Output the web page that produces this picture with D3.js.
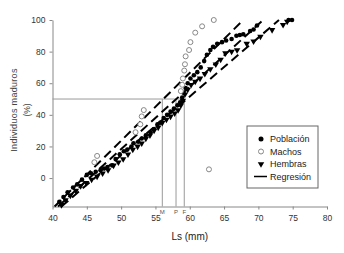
<!DOCTYPE html>
<html lang="en">
<head>
<meta charset="utf-8">
<script src="https://d3js.org/d3.v7.min.js"></script>
<style>
  body { margin: 0; background: #fff; }
  svg { display: block; font-family: Arial, "Liberation Sans", sans-serif; }
</style>
</head>
<body>
<script>
// tick values
var xTicks = [40, 45, 50, 55, 60, 65, 70, 75, 80];
var yTicks = [0, 20, 40, 60, 80, 100];

// Poblacion (filled circles): [Ls, %]
var poblacion = [[41.0,-15],[41.6,-12],[42.2,-9],[43.0,-6],[43.6,-4],[44.3,-1],[45.0,2],[45.6,3],[46.3,4],
  [47.0,5],[47.5,6],[48.0,7],[48.7,8],[49.2,12],[49.8,15],[50.4,17],[50.9,18],[51.5,20],[51.8,22],
  [52.5,23],[53.0,25],[53.6,27],[54.3,29],[54.8,31],[55.3,34],[55.7,35],[56.2,38],[56.7,40],[57.2,42],
  [57.7,44],[58.2,46],[58.6,48],[58.9,51],[59.1,54],[59.4,57],[59.7,60],[60.1,63],[60.6,65],[61.1,67],
  [61.6,70],[62.1,74],[62.5,78],[63.0,81],[63.4,83],[64.0,85],[64.7,86],[65.3,87],[66.1,88],[66.8,90],
  [67.3,90.5],[67.8,91],[68.8,93],[69.3,94],[69.8,96.5],[74.4,100],[74.9,100]];

// Machos (open circles)
var machos = [[46.1,10],[46.5,14],[52.1,29],[52.8,34],[53.0,39],[53.3,43],[58.7,55],[58.9,59],[59.0,63],
  [59.2,68],[59.3,72],[59.4,77],[59.9,81],[60.1,86],[60.8,92],[61.8,96],[63.5,100],[62.8,5.5]];

// Hembras (filled triangles)
var hembras = [[41.3,-17],[41.9,-14],[42.6,-11],[43.4,-8],[44.1,-5],[44.9,-3],[45.7,-1],[46.5,1],[47.3,3],
  [48.1,5],[48.9,8],[49.6,10],[50.3,12],[51.0,15],[51.7,18],[52.4,20],[53.0,22],[53.6,25],[54.2,27],
  [54.8,30],[55.4,32],[56.0,35],[56.6,37],[57.2,39],[57.8,41],[58.3,43],[58.7,46],[59.0,49],[59.3,53],
  [59.7,56],[60.2,59],[60.8,61],[61.5,63],[62.2,66],[63.0,69],[63.8,72],[64.5,75],[65.2,79],[66.1,80],
  [66.9,81],[68.3,85],[69.3,86.5],[70.3,89.5],[72.0,93.7],[73.6,97],[74.2,99]];

// regression lines: [[x1,y1],[x2,y2]] for machos, poblacion, hembras
var regresion = [
  [[40.3,-18],[67.8,100]],
  [[40.8,-18],[70.7,100]],
  [[41.3,-18],[73.0,100]]
];

// 50% maturity sizes
var madurez = [["M", 56.0], ["P", 58.0], ["F", 59.2]];

var W = 344, H = 253;
var svg = d3.select("body").append("svg").attr("width", W).attr("height", H);

var x = d3.scaleLinear().domain([40, 80]).range([52.5, 327]);
var y = d3.scaleLinear().domain([-18, 100]).range([206.5, 20]);

// axes
var xAxis = svg.append("g")
  .attr("transform", "translate(0," + y(-18) + ")")
  .call(d3.axisBottom(x).tickValues(xTicks).tickSize(3).tickSizeOuter(0).tickPadding(5));
var yAxis = svg.append("g")
  .attr("transform", "translate(" + x(40) + ",0)")
  .call(d3.axisLeft(y).tickValues(yTicks).tickSize(3).tickSizeOuter(0).tickPadding(4));

[xAxis, yAxis].forEach(function(g) {
  g.select(".domain").attr("stroke", "#888");
  g.selectAll(".tick line").attr("stroke", "#888");
  g.selectAll(".tick text").attr("fill", "#333").style("font-size", "8.5px")
    .style("font-family", "Arial, 'Liberation Sans', sans-serif");
});

// reference lines at 50%
var xMax = d3.max(madurez, function(d) { return d[1]; });
svg.append("line")
  .attr("x1", x(40)).attr("x2", x(xMax))
  .attr("y1", y(50)).attr("y2", y(50))
  .attr("stroke", "#999").attr("stroke-width", 1);

svg.selectAll(".vline").data(madurez).enter().append("line")
  .attr("class", "vline")
  .attr("x1", function(d) { return x(d[1]); })
  .attr("x2", function(d) { return x(d[1]); })
  .attr("y1", y(-18)).attr("y2", y(50))
  .attr("stroke", "#999").attr("stroke-width", 1);

svg.selectAll(".vlab").data(madurez).enter().append("text")
  .attr("x", function(d) { return x(d[1]); })
  .attr("y", y(-18) + 7)
  .attr("text-anchor", "middle")
  .style("font-size", "6px").attr("fill", "#555")
  .text(function(d) { return d[0]; });

// regression lines
var line = d3.line().x(function(d) { return x(d[0]); }).y(function(d) { return y(d[1]); });
svg.selectAll(".reg").data(regresion).enter().append("path")
  .attr("class", "reg")
  .attr("d", line)
  .attr("fill", "none")
  .attr("stroke", "#000")
  .attr("stroke-width", 2)
  .attr("stroke-dasharray", "9,5");

// points
svg.selectAll(".hem").data(hembras).enter().append("path")
  .attr("class", "hem")
  .attr("transform", function(d) { return "translate(" + x(d[0]) + "," + y(d[1]) + ") rotate(180)"; })
  .attr("d", d3.symbol().type(d3.symbolTriangle).size(18))
  .attr("fill", "#000");

svg.selectAll(".pob").data(poblacion).enter().append("circle")
  .attr("class", "pob")
  .attr("cx", function(d) { return x(d[0]); })
  .attr("cy", function(d) { return y(d[1]); })
  .attr("r", 2.3)
  .attr("fill", "#000");

svg.selectAll(".mac").data(machos).enter().append("circle")
  .attr("class", "mac")
  .attr("cx", function(d) { return x(d[0]); })
  .attr("cy", function(d) { return y(d[1]); })
  .attr("r", 2.5)
  .attr("fill", "#fff")
  .attr("stroke", "#888")
  .attr("stroke-width", 1);

// axis titles
svg.append("text")
  .attr("x", x(60)).attr("y", 240)
  .attr("text-anchor", "middle")
  .style("font-size", "10px").attr("fill", "#222")
  .text("Ls (mm)");

svg.append("text")
  .attr("transform", "translate(17,110) rotate(-90)")
  .attr("text-anchor", "middle")
  .style("font-size", "9px").style("letter-spacing", "0.3px").attr("fill", "#444")
  .text("Individuos maduros");
svg.append("text")
  .attr("transform", "translate(30,110) rotate(-90)")
  .attr("text-anchor", "middle")
  .style("font-size", "8.5px").attr("fill", "#444")
  .text("(%)");

// legend
var legend = svg.append("g").attr("transform", "translate(247,126)");
legend.append("rect")
  .attr("width", 71).attr("height", 62)
  .attr("fill", "#fff").attr("stroke", "#666").attr("stroke-width", 1);

var items = ["Población", "Machos", "Hembras", "Regresión"];
items.forEach(function(t, i) {
  var cy = 13 + i * 12.5;
  if (i === 0) legend.append("circle").attr("cx", 14).attr("cy", cy).attr("r", 2.5).attr("fill", "#000");
  if (i === 1) legend.append("circle").attr("cx", 14).attr("cy", cy).attr("r", 2.5)
    .attr("fill", "#fff").attr("stroke", "#888");
  if (i === 2) legend.append("path").attr("transform", "translate(14," + cy + ") rotate(180)")
    .attr("d", d3.symbol().type(d3.symbolTriangle).size(18)).attr("fill", "#000");
  if (i === 3) legend.append("line").attr("x1", 7).attr("x2", 20).attr("y1", cy).attr("y2", cy)
    .attr("stroke", "#000").attr("stroke-width", 1.5);
  legend.append("text").attr("x", 23).attr("y", cy + 3)
    .style("font-size", "9px").attr("fill", "#222").text(t);
});
</script>
</body>
</html>
